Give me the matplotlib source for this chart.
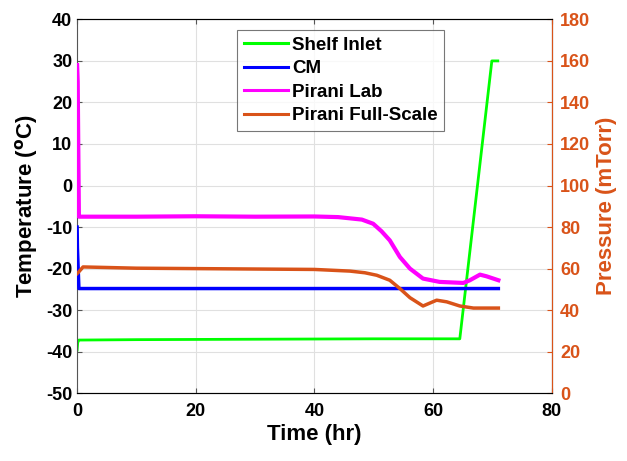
import matplotlib.pyplot as plt

plt.rcParams['font.family'] = ['Liberation Sans', 'DejaVu Sans']
plt.rcParams['font.weight'] = 'bold'
plt.rcParams['axes.unicode_minus'] = False

# Shelf inlet temperature (degC) vs time (hr)
shelf_t = [0.0, 0.1, 0.3, 10, 30, 50, 64.5, 69.9, 70.9]
shelf_T = [-39.6, -37.8, -37.2, -37.1, -37.0, -36.9, -36.9, 30.0, 30.0]

# CM pressure (mTorr)
cm_t = [0.0, 0.05, 0.3, 10, 30, 50, 60, 71]
cm_P = [80.0, 70.0, 50.4, 50.4, 50.4, 50.4, 50.4, 50.4]

# Pirani Lab pressure (mTorr)
lab_t = [0.0, 0.1, 0.3, 10, 20, 30, 40, 44, 48, 49.9, 51.3, 52.7, 54.4, 56.1,
         58.3, 61.1, 65.1, 66.2, 67.9, 69.0, 71.0]
lab_P = [158, 150, 85.0, 85.0, 85.2, 85.0, 85.1, 84.8, 83.6, 81.6, 78.0, 73.6,
         65.6, 60.0, 55.2, 53.6, 53.1, 54.4, 57.1, 56.3, 54.4]

# Pirani Full-Scale pressure (mTorr)
fs_t = [0.0, 0.3, 1.0, 10, 20, 30, 40, 46, 48.5, 50.5, 52.7, 54.4, 56.1, 58.3,
        60.6, 62.3, 64.5, 66.8, 71.0]
fs_P = [57.6, 58.5, 60.8, 60.2, 60.0, 59.8, 59.6, 58.8, 58.0, 56.8, 54.4, 50.4,
        46.0, 42.0, 44.8, 44.0, 42.0, 41.0, 41.0]

orange = (0.85, 0.325, 0.098)

fig, ax = plt.subplots(figsize=(6.27, 4.61), dpi=100)
fig.subplots_adjust(left=0.123, right=0.88, top=0.958, bottom=0.147)
ax2 = ax.twinx()

l1, = ax.plot(shelf_t, shelf_T, color=(0, 1, 0), lw=2, label='Shelf Inlet')
l2, = ax2.plot(cm_t, cm_P, color=(0, 0, 1), lw=2.5, label='CM')
l3, = ax2.plot(lab_t, lab_P, color=(1, 0, 1), lw=3, label='Pirani Lab')
l4, = ax2.plot(fs_t, fs_P, color=orange, lw=2.5, label='Pirani Full-Scale')

ax.set_xlim(0, 80)
ax.set_ylim(-50, 40)
ax2.set_ylim(0, 180)
ax.set_xticks([0, 20, 40, 60, 80])
ax.set_yticks(range(-50, 41, 10))
ax2.set_yticks(range(0, 181, 20))
ax.grid(True, color='#e0e0e0', lw=0.8)
ax.set_axisbelow(True)

ax.tick_params(direction='in', labelsize=13, top=True, color='#555555')
ax.tick_params(axis='x', pad=7)
ax2.tick_params(direction='in', labelsize=13, colors=orange, pad=6)
for s in ['left', 'top', 'bottom']:
    ax.spines[s].set_color('#555555')
ax2.spines['right'].set_color(orange)
ax2.spines['left'].set_visible(False)

ax.set_xlabel('Time (hr)', fontsize=16, fontweight='bold', labelpad=3)
ax.set_ylabel('Temperature ($^{\\mathbf{o}}$C)', fontsize=16, fontweight='bold',
              labelpad=4)
ax2.set_ylabel('Pressure (mTorr)', fontsize=16, fontweight='bold', color=orange,
               labelpad=4)

leg = ax2.legend(handles=[l1, l2, l3, l4], loc='upper left',
                 bbox_to_anchor=(0.337, 0.971), borderaxespad=0,
                 fontsize=13.5, frameon=True, fancybox=False,
                 edgecolor='#555555', handlelength=2.35, borderpad=0.35,
                 labelspacing=0.34, handletextpad=0.22)
leg.get_frame().set_linewidth(0.8)
for h in leg.get_lines():
    h.set_linewidth(2.2)

fig.savefig('out.png', dpi=100)
